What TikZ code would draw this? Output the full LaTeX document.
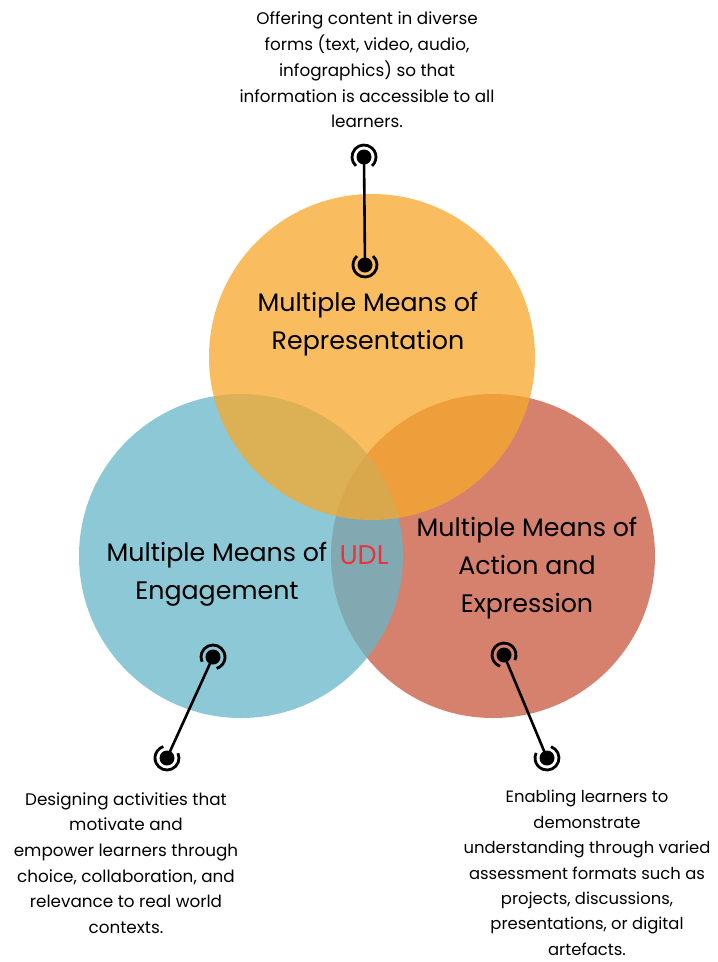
\documentclass[tikz,border=0pt]{standalone}
\usepackage{fontspec}
\setmainfont{Poppins}
\newcommand{\udlmarker}[3]{%
  \node[dot] (#1) at (#2) {};
  \draw[ring,shift={(#2)}] (#3+42:12) arc[start angle=#3+42,end angle=#3+318,radius=12];
}
\begin{document}
\begin{tikzpicture}[x=1pt,y=-1pt,
  circ/.style={fill opacity=0.75,draw=none},
  big/.style={font=\fontsize{25.3}{38}\selectfont,align=center,text=black},
  small/.style={font=\fontsize{16.8}{25.7}\selectfont,align=center,text=black},
  link/.style={line width=2.6pt,draw=black},
  ring/.style={line width=2.8pt,draw=black},
  dot/.style={circle,fill=black,inner sep=0pt,minimum size=15pt},
]
\definecolor{cor}{RGB}{247,168,43}
\definecolor{cbl}{RGB}{102,182,201}
\definecolor{cre}{RGB}{214,129,110}
\definecolor{udl}{RGB}{232,52,58}
\useasboundingbox (0,0) rectangle (718,962);
\fill[white] (0,0) rectangle (718,962);
% circles
\fill[cre] (493,556) circle[radius=162];
\fill[cbl,circ] (241,556) circle[radius=162];
\fill[cor,circ] (372,357) circle[radius=163];
% labels
\node[big] (rep) at (368,324) {Multiple Means of\\Representation};
\node[big] (eng) at (217,574) {Multiple Means of\\Engagement};
\node[big] (act) at (527,568) {Multiple Means of\\Action and\\Expression};
\node[font=\fontsize{27}{38}\selectfont,text=udl] (udl) at (364,555) {UDL};
% descriptions
\node[small] (d1) at (367,70) {Offering content in diverse\\forms (text, video, audio,\\infographics) so that\\information is accessible to all\\learners.};
\node[small] (d2) at (126,863) {Designing activities that\\motivate and\\empower learners through\\choice, collaboration, and\\relevance to real world\\contexts.};
\node[small,font=\fontsize{16.4}{25.4}\selectfont] (d3) at (587,873) {Enabling learners to\\demonstrate\\understanding through varied\\assessment formats such as\\projects, discussions,\\presentations, or digital\\artefacts.};
% markers
\udlmarker{m1}{364,157}{90}
\udlmarker{m2}{365,265}{-90}
\udlmarker{m3}{213,657}{114.5}
\udlmarker{m4}{167,758}{-65.5}
\udlmarker{m5}{504,655}{67.3}
\udlmarker{m6}{547,758}{-112.7}
\draw[link] (m1.center) -- (m2.center);
\draw[link] (m3.center) -- (m4.center);
\draw[link] (m5.center) -- (m6.center);
\end{tikzpicture}
\end{document}
